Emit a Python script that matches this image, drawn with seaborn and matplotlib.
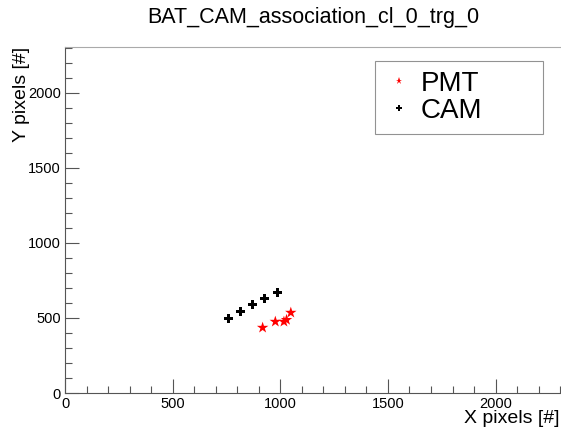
import pandas as pd
import matplotlib
matplotlib.use('Agg')
import matplotlib.pyplot as plt
from matplotlib.ticker import MultipleLocator
import seaborn as sns

# values
pmt_x = [918, 977, 1017, 1029, 1049]
pmt_y = [435, 475, 475, 487, 535]
cam_x = [759, 813, 869, 929, 985]
cam_y = [495, 540, 587, 627, 671]

df = pd.concat([
    pd.DataFrame({'x': pmt_x, 'y': pmt_y, 'source': 'PMT'}),
    pd.DataFrame({'x': cam_x, 'y': cam_y, 'source': 'CAM'}),
], ignore_index=True)

sns.set_style('ticks')
plt.rcParams['font.family'] = ['Liberation Sans', 'DejaVu Sans']
plt.rcParams['text.color'] = 'black'
plt.rcParams['axes.labelcolor'] = 'black'
plt.rcParams['xtick.labelcolor'] = 'black'
plt.rcParams['ytick.labelcolor'] = 'black'

fig = plt.figure(figsize=(5.61, 4.36), dpi=100)
ax = fig.add_axes([65 / 561, 43 / 436, 496 / 561, 346 / 436])

sns.scatterplot(data=df, x='x', y='y', hue='source', style='source',
                size='source', sizes={'PMT': 75, 'CAM': 42},
                palette={'PMT': 'red', 'CAM': 'black'},
                markers={'PMT': '*', 'CAM': 'P'},
                linewidth=0, ax=ax)

ax.set_xlim(0, 2304)
ax.set_ylim(0, 2304)
ax.xaxis.set_major_locator(MultipleLocator(500))
ax.xaxis.set_minor_locator(MultipleLocator(100))
ax.yaxis.set_major_locator(MultipleLocator(500))
ax.yaxis.set_minor_locator(MultipleLocator(100))
ax.tick_params(which='major', direction='in', length=10, width=0.8,
               color='#555555', labelsize=10.5, pad=3)
ax.tick_params(which='minor', direction='in', length=5, width=0.8, color='#555555')

for side in ['left', 'bottom']:
    ax.spines[side].set_color('#555555')
ax.spines['top'].set_color('#aaaaaa')
ax.spines['right'].set_visible(False)

ax.set_title('BAT_CAM_association_cl_0_trg_0', fontsize=15.5, pad=17, color='black')
ax.set_xlabel('X pixels [#]', fontsize=14, loc='right')
ax.xaxis.set_label_coords(0.997, -0.05)
ax.set_ylabel('Y pixels [#]', fontsize=14, loc='top')
ax.yaxis.set_label_coords(-0.07, 1.0)

leg = ax.legend(loc='upper left', bbox_to_anchor=(0.625, 0.96, 0.339, 0.0),
                mode='expand', fontsize=20, markerscale=0.6, frameon=True,
                fancybox=False, edgecolor='#777777', handlelength=1.0,
                handletextpad=0.3, borderpad=0.35, labelspacing=0.05,
                borderaxespad=0)
leg.get_frame().set_linewidth(0.8)

fig.savefig('out.png', dpi=100)
